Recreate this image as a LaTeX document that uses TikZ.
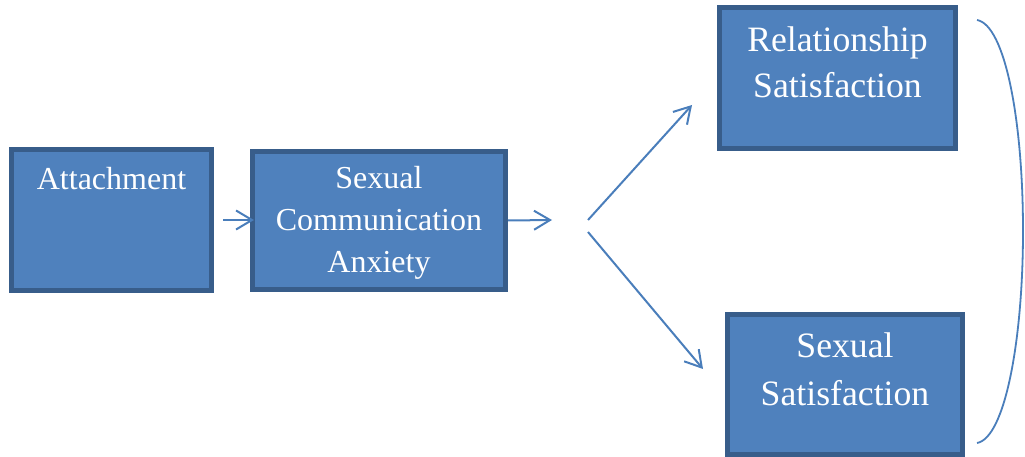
\documentclass[tikz,border=0pt]{standalone}
\usepackage{fontspec}
\setmainfont{Liberation Serif}
\usetikzlibrary{arrows.meta}
\definecolor{boxfill}{HTML}{4F81BD}
\definecolor{boxborder}{HTML}{385D8A}
\definecolor{linkblue}{HTML}{4A7EBB}
% multi-line labels are anchored at the baseline of their last line
\tikzset{
  stagebox/.style={draw=boxborder, fill=boxfill, line width=5pt, inner sep=0pt},
  boxtext/.style={text=white, align=center, anchor=base, inner sep=0pt},
  smalltext/.style={boxtext, font=\fontsize{32}{42}\selectfont},
  reltext/.style={boxtext, font=\fontsize{35.7}{46}\selectfont},
  sextext/.style={boxtext, font=\fontsize{35.7}{48}\selectfont},
  link/.style={draw=linkblue, line width=2pt,
    -{Straight Barb[length=16pt, width=19pt, line width=2pt]}},
}
\begin{document}
\begin{tikzpicture}[x=1pt, y=-1pt]
  \useasboundingbox (0,0) rectangle (1025,457);

  % boxes
  \node[stagebox, minimum width=200pt, minimum height=141pt] (att) at (111.5,220) {};
  \node[stagebox, minimum width=253pt, minimum height=138pt] (sca) at (379,220.5) {};
  \node[stagebox, minimum width=236pt, minimum height=141pt] (rel) at (837.5,78) {};
  \node[stagebox, minimum width=235pt, minimum height=140pt] (sex) at (845,384.5) {};

  % labels
  \node[smalltext] (att-t) at (111.5,190) {Attachment};
  \node[smalltext] (sca-t) at (379,272) {Sexual\\Communication\\Anxiety};
  \node[reltext] (rel-t) at (837.5,98) {Relationship\\Satisfaction};
  \node[sextext] (sex-t) at (845,405) {Sexual\\Satisfaction};

  % connectors
  \coordinate (mid) at (552,220);
  \coordinate (up-s) at (588,220);
  \coordinate (up-e) at (692,105);
  \coordinate (dn-s) at (588,232);
  \coordinate (dn-e) at (703,369);
  \draw[link, shorten <=9pt, shorten >=-4pt] (att.east) -- (att.east -| sca.west);
  \draw[link] (sca.east) -- (mid);
  \draw[link] (up-s) -- (up-e);
  \draw[link] (dn-s) -- (dn-e);

  % bracket grouping the two outcomes
  \coordinate (br-top) at (977,20);
  \coordinate (br-mid) at (1023,231);
  \coordinate (br-bot) at (977,443);
  \draw[linkblue, line width=1.8pt]
    (br-top) .. controls (1005,25) and (1023,120) .. (br-mid)
             .. controls (1023,340) and (1005,438) .. (br-bot);
\end{tikzpicture}
\end{document}
